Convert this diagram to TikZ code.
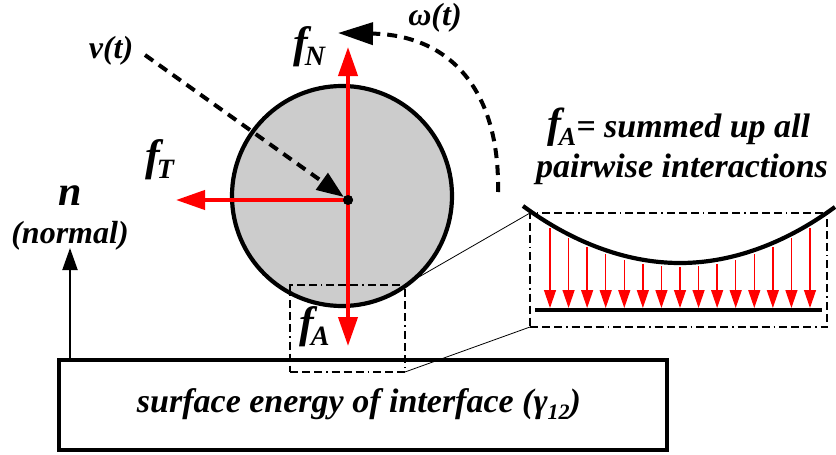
\documentclass[tikz,border=0pt]{standalone}
\usepackage{fontspec}
\setmainfont{Liberation Serif}
\usetikzlibrary{arrows.meta}
\newcommand\myf[2][28]{f\kern-3pt\raisebox{-8pt}{\fontsize{#1}{#1}\selectfont #2}}
\tikzset{
  lbl/.style={font=\bfseries\itshape\fontsize{32}{34}\selectfont, inner sep=0pt},
  biglbl/.style={font=\bfseries\itshape\fontsize{34}{36}\selectfont, inner sep=0pt},
  flbl/.style={font=\bfseries\itshape\fontsize{44}{44}\selectfont, inner sep=0pt},
  redarrow/.style={draw=red, line width=4pt, -{Triangle[length=29pt,width=19pt]}},
  smallred/.style={draw=red, line width=1.3pt, -{Triangle[length=18pt,width=12pt]}},
  dashblack/.style={draw=black, line width=4pt, dash pattern=on 10pt off 7pt},
  dashdotbox/.style={draw=black, line width=2pt, inner sep=0pt, outer sep=0pt,
    dash pattern=on 8pt off 4pt on 8pt off 4pt on 8pt off 4pt on 1.5pt off 4pt},
}
\begin{document}
\begin{tikzpicture}[x=1pt,y=-1pt]
\useasboundingbox (0,0) rectangle (836,455);

% ground box
\node[draw, line width=4.2pt, minimum width=608pt, minimum height=90pt, inner sep=0pt, outer sep=0pt] (box) at (363,405) {};
\node[biglbl, anchor=base] (surf) at (359,412) {surface energy of interface (γ\raisebox{-7pt}{\fontsize{22}{22}\selectfont 12})};

% normal arrow
\coordinate (nbase) at (70,360);
\coordinate (ntip) at (70,248);
\draw[line width=2pt, -{Triangle[length=22pt,width=15pt]}] (nbase) -- (ntip);
\node[font=\bfseries\itshape\fontsize{42}{42}\selectfont, inner sep=0pt, anchor=base] (n) at (70,205) {n};
\node[lbl, anchor=base] (nrm) at (70,243) {(normal)};

% ball
\node[draw, line width=4.2pt, fill=gray!40, circle, minimum size=220pt, inner sep=0pt] (ball) at (342,196) {};
\node[circle, fill=black, minimum size=10pt, inner sep=0pt] (c) at (348,200) {};

% red force arrows
\coordinate (fNtip) at (348,47);
\coordinate (fAtip) at (348,346);
\coordinate (fTtip) at (176,200);
\draw[redarrow] (c.center) -- (fNtip);
\draw[redarrow] (c.center) -- (fAtip);
\draw[redarrow] (c.center) -- (fTtip);
\node[circle, fill=black, minimum size=10pt, inner sep=0pt] at (c) {};

% velocity
\coordinate (vstart) at (145,55);
\draw[dashblack, -{Triangle[length=27pt,width=20pt]}] (vstart) -- (c);
\node[lbl, anchor=base] (vt) at (111,58) {v(t)};

% rotation
\coordinate (wstart) at (498,192);
\coordinate (wtip) at (338,33);
\draw[dashblack, -{Triangle[length=35pt,width=22pt]}] (wstart) .. controls (500,90) and (450,35) .. (wtip);
\node[lbl, anchor=base] (wt) at (435,25) {ω(t)};

% force labels
\node[flbl, anchor=base west] (fN) at (293,57) {\myf{N}};
\node[flbl, anchor=base west] (fT) at (145,170) {\myf{T}};
\node[flbl, anchor=base west] (fA) at (299,337) {\myf{A}};

% boxes
\node[dashdotbox, minimum width=115pt, minimum height=87pt] (sb) at (347.5,328.5) {};
\node[dashdotbox, minimum width=297pt, minimum height=114pt] (zb) at (678.5,270) {};
\draw[line width=0.8pt] (sb.north east) -- (zb.north west);
\draw[line width=0.8pt] (sb.south east) -- (zb.south west);

% zoomed interface
\draw[line width=4.2pt] (523,206) parabola bend (680,263) (835,207);
\foreach \i in {0,...,14} {
  \pgfmathsetmacro\xx{550+\i*18.571}
  \pgfmathsetmacro\yy{263-0.00231*(\xx-680)*(\xx-680)+4}
  \draw[smallred] (\xx,\yy) -- (\xx,308);
}
\coordinate (bl) at (535,310);
\coordinate (br) at (822,310);
\draw[line width=4pt] (bl) -- (br);

\node[biglbl, anchor=base] (t1) at (679,137) {{\fontsize{42}{42}\selectfont\myf[26]{A}}= summed up all};
\node[biglbl, anchor=base] (t2) at (682,177) {pairwise interactions};
\end{tikzpicture}
\end{document}
